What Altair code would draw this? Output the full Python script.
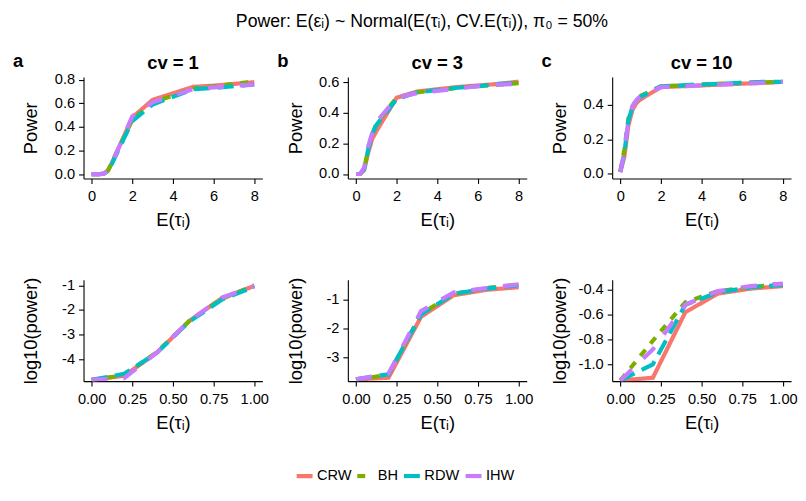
import altair as alt
import pandas as pd

# ---------------- data ----------------
methods = ["CRW", "BH", "RDW", "IHW"]
method_colors = ["#F8766D", "#7CAE00", "#00BFC4", "#C77CFF"]
method_dashes = [[1, 0], [8, 8], [16, 8], [16, 16]]

cv_titles = ["cv = 1", "cv = 3", "cv = 10"]
panel_letters = ["a", "b", "c"]
main_title = "Power: E(εᵢ) ~ Normal(E(τᵢ), CV.E(τᵢ)), π₀ = 50%"
x_title = "E(τᵢ)"
y_title_top = "Power"
y_title_bottom = "log10(power)"

x_top = [0, 0.2, 0.4, 0.6, 0.8, 1, 2, 3, 4, 5, 6, 7, 8]
x_bottom = [0, 0.2, 0.4, 0.6, 0.8, 1.0]

top_cv1_crw = [0.0, 0.0, 0.0002, 0.0035, 0.030, 0.095, 0.48, 0.630, 0.685, 0.740, 0.750, 0.765, 0.780]
top_cv1_bh = [0.0, 0.0, 0.0002, 0.0035, 0.028, 0.100, 0.46, 0.610, 0.665, 0.725, 0.745, 0.765, 0.785]
top_cv1_rdw = [0.0, 0.0, 0.0002, 0.0033, 0.026, 0.090, 0.45, 0.590, 0.655, 0.720, 0.730, 0.745, 0.760]
top_cv1_ihw = [0.0, 0.0, 0.0002, 0.0035, 0.032, 0.093, 0.49, 0.610, 0.665, 0.720, 0.735, 0.750, 0.760]

top_cv3_crw = [0.0002, 0.0002, 0.025, 0.14, 0.23, 0.28, 0.50, 0.540, 0.555, 0.570, 0.580, 0.590, 0.605]
top_cv3_bh = [0.0002, 0.00024, 0.032, 0.16, 0.26, 0.33, 0.50, 0.535, 0.550, 0.565, 0.575, 0.585, 0.595]
top_cv3_rdw = [0.0002, 0.00025, 0.030, 0.16, 0.26, 0.32, 0.49, 0.535, 0.550, 0.565, 0.575, 0.590, 0.595]
top_cv3_ihw = [0.0002, 0.00026, 0.040, 0.18, 0.27, 0.34, 0.50, 0.530, 0.545, 0.560, 0.575, 0.585, 0.590]

top_cv10_crw = [0.010, 0.100, 0.28, 0.370, 0.410, 0.430, 0.500, 0.505, 0.510, 0.515, 0.520, 0.525, 0.530]
top_cv10_bh = [0.015, 0.140, 0.32, 0.390, 0.430, 0.450, 0.505, 0.510, 0.515, 0.520, 0.525, 0.528, 0.530]
top_cv10_rdw = [0.012, 0.120, 0.31, 0.385, 0.425, 0.445, 0.505, 0.510, 0.515, 0.520, 0.525, 0.530, 0.530]
top_cv10_ihw = [0.010, 0.130, 0.31, 0.390, 0.425, 0.450, 0.500, 0.505, 0.510, 0.515, 0.520, 0.525, 0.530]

bot_cv1_crw = [-4.85, -4.68, -3.75, -2.45, -1.52, -1.02]
bot_cv1_bh = [-4.85, -4.66, -3.72, -2.45, -1.55, -1.00]
bot_cv1_rdw = [-4.85, -4.60, -3.75, -2.48, -1.58, -1.05]
bot_cv1_ihw = [-4.85, -4.78, -3.74, -2.45, -1.50, -1.03]

bot_cv3_crw = [-3.78, -3.72, -1.60, -0.85, -0.66, -0.57]
bot_cv3_bh = [-3.78, -3.62, -1.50, -0.80, -0.60, -0.48]
bot_cv3_rdw = [-3.78, -3.60, -1.52, -0.80, -0.62, -0.50]
bot_cv3_ihw = [-3.78, -3.58, -1.40, -0.75, -0.60, -0.47]

bot_cv10_crw = [-1.13, -1.108, -0.58, -0.43, -0.39, -0.37]
bot_cv10_bh = [-1.13, -0.81, -0.50, -0.41, -0.38, -0.35]
bot_cv10_rdw = [-1.13, -1.00, -0.52, -0.42, -0.38, -0.36]
bot_cv10_ihw = [-1.13, -0.88, -0.52, -0.41, -0.37, -0.35]

# ---------------- styling ----------------
FONT = "Liberation Sans"
W, H = 180, 102
LINE_W = 4.2

top_sets = [
    [top_cv1_crw, top_cv1_bh, top_cv1_rdw, top_cv1_ihw],
    [top_cv3_crw, top_cv3_bh, top_cv3_rdw, top_cv3_ihw],
    [top_cv10_crw, top_cv10_bh, top_cv10_rdw, top_cv10_ihw],
]
bot_sets = [
    [bot_cv1_crw, bot_cv1_bh, bot_cv1_rdw, bot_cv1_ihw],
    [bot_cv3_crw, bot_cv3_bh, bot_cv3_rdw, bot_cv3_ihw],
    [bot_cv10_crw, bot_cv10_bh, bot_cv10_rdw, bot_cv10_ihw],
]

top_ydomains = [[-0.037, 0.823], [-0.029, 0.635], [-0.026, 0.558]]
top_yticks = [[0, 0.2, 0.4, 0.6, 0.8], [0, 0.2, 0.4, 0.6], [0, 0.2, 0.4]]
bot_ydomains = [[-4.9, -0.77], [-3.84, -0.31], [-1.135, -0.319]]
bot_yticks = [[-4, -3, -2, -1], [-3, -2, -1], [-1.0, -0.8, -0.6, -0.4]]
bot_yfmt = ["d", "d", ".1f"]


def long_df(xs, series):
    rows = []
    for m, vals in zip(methods, series):
        for x, v in zip(xs, vals):
            rows.append({"x": x, "y": v, "method": m})
    return pd.DataFrame(rows)


legend = alt.Legend(
    title=None, orient="none", legendX=212, legendY=391, direction="horizontal",
    symbolType="stroke", symbolSize=256, symbolStrokeWidth=LINE_W,
    labelFont=FONT, labelFontSize=14.7, labelColor="black", labelOffset=2,
    columnPadding=-3, padding=0, gridAlign="none",
)


def lines(df, xdom, xticks, xfmt, ydom, yticks, yfmt, ytitle):
    return alt.Chart(df).mark_line(strokeWidth=LINE_W, clip=True).encode(
        x=alt.X("x:Q", scale=alt.Scale(domain=xdom, nice=False, zero=False),
                axis=alt.Axis(values=xticks, format=xfmt, title=x_title)),
        y=alt.Y("y:Q", scale=alt.Scale(domain=ydom, nice=False, zero=False),
                axis=alt.Axis(values=yticks, title=ytitle,
                              labelExpr="replace(format(datum.value, '%s'), '\u2212', '-')" % yfmt)),
        color=alt.Color("method:N", scale=alt.Scale(domain=methods, range=method_colors), legend=legend),
        strokeDash=alt.StrokeDash("method:N", scale=alt.Scale(domain=methods, range=method_dashes), legend=legend),
    )


panels = []
for i in range(3):
    df = long_df(x_top, top_sets[i])
    base = lines(df, [-0.4, 8.4], [0, 2, 4, 6, 8], "d", top_ydomains[i], top_yticks[i], ".1f", y_title_top)
    lab = pd.DataFrame({"letter": [panel_letters[i]], "cv": [cv_titles[i]]})
    letter = alt.Chart(lab).mark_text(font=FONT, fontSize=18.5, fontWeight="bold", align="left",
                                       baseline="alphabetic", color="black").encode(
        text="letter:N", x=alt.value(-71), y=alt.value(-10.5))
    ttl = alt.Chart(lab).mark_text(font=FONT, fontSize=18.5, fontWeight="bold", align="center",
                                    baseline="alphabetic", color="black").encode(
        text="cv:N", x=alt.value(W / 2), y=alt.value(-8))
    panels.append(alt.layer(base, letter, ttl).properties(width=W, height=H))

for i in range(3):
    df = long_df(x_bottom, bot_sets[i])
    base = lines(df, [-0.05, 1.05], [0, 0.25, 0.5, 0.75, 1.0], ".2f", bot_ydomains[i], bot_yticks[i],
                 bot_yfmt[i], y_title_bottom)
    panels.append(base.properties(width=W, height=H))

chart = alt.concat(
    *panels, columns=3, spacing={"row": 102, "column": 86}, bounds="flush",
    title=alt.Title(main_title, font=FONT, fontSize=17.8, fontWeight="normal", color="black",
                    anchor="middle", baseline="alphabetic", offset=7, dx=17),
).properties(
    padding={"left": 5, "top": 3, "right": 0, "bottom": 0}
).configure_view(stroke=None).configure_axis(
    grid=False, domainColor="black", domainWidth=1.1, tickColor="black", tickWidth=1.1, tickSize=5,
    labelFont=FONT, labelFontSize=14.7, labelColor="black",
    titleFont=FONT, titleFontSize=18.4, titleFontWeight="normal", titleColor="black",
).configure_axisX(
    labelPadding=5, titlePadding=8,
).configure_axisY(
    labelPadding=4, titlePadding=5, minExtent=38, maxExtent=38,
)

chart.save("out.html", embed_options={"renderer": "svg", "actions": False})
